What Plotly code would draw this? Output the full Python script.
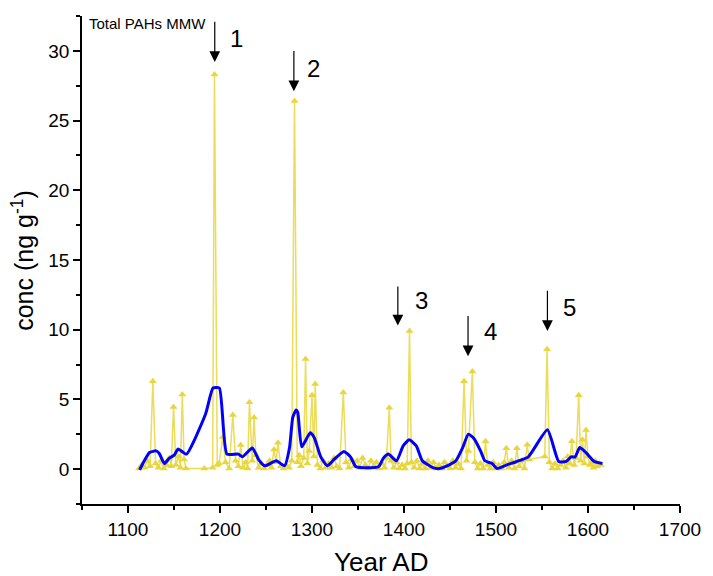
import plotly.graph_objects as go

# Total PAHs (MMW) concentration, raw samples
years = [1112, 1115, 1118, 1121, 1124, 1127, 1130, 1133, 1136, 1139, 1142, 1145, 1147,
         1149.5, 1152, 1155, 1157, 1159, 1161, 1163, 1183, 1192, 1194, 1197, 1199, 1203,
         1206, 1210, 1213.9, 1217, 1220, 1222.5, 1225, 1228, 1230, 1232, 1235, 1237, 1239,
         1242, 1245, 1248, 1251, 1254, 1256, 1258.7, 1261, 1263, 1266, 1269, 1272, 1275,
         1278, 1281, 1284, 1286, 1288, 1291, 1293, 1295, 1297, 1300, 1302, 1303.5, 1306,
         1309, 1312, 1315, 1318, 1321, 1324, 1327, 1330, 1334, 1337, 1340, 1343, 1346, 1349,
         1352, 1355, 1358, 1361, 1364, 1367, 1370, 1373, 1376, 1379, 1381, 1384, 1386, 1389,
         1392, 1395, 1398, 1401, 1403.5, 1406, 1408, 1411, 1414, 1417, 1420, 1423, 1426,
         1429, 1432, 1435, 1438, 1441, 1444, 1447, 1450, 1453, 1456, 1459, 1462, 1465.3,
         1468, 1470, 1474.3, 1477, 1480, 1483, 1486, 1488.6, 1491, 1494, 1497, 1500, 1503,
         1506, 1509, 1511.2, 1514, 1517, 1520, 1522.7, 1525, 1528, 1531, 1534, 1536, 1553,
         1555.5, 1558, 1561, 1564, 1567, 1570, 1573, 1576, 1578, 1580, 1582.4, 1585, 1587,
         1589.9, 1592, 1594, 1596, 1597.8, 1600, 1602, 1604, 1606, 1608, 1610, 1612, 1614]
conc = [0.05, 0.3, 0.1, 0.6, 0.2, 6.3, 0.4, 0.1, 0.6, 0.05, 0.3, 0.8, 0.2,
        4.45, 0.3, 0.9, 0.1, 5.35, 0.7, 0.05, 0.05, 0.1, 28.3, 0.3, 0.4, 2.3,
        0.5, 0.05, 3.88, 0.6, 0.2, 1.74, 0.1, 0.5, 0.05, 4.8, 0.6, 3.7, 1.0,
        0.1, 0.4, 0.05, 0.3, 0.6, 0.1, 1.4, 0.5, 1.9, 0.2, 0.05, 0.3, 0.1,
        0.6, 26.4, 0.5, 1.0, 0.2, 0.8, 7.9, 0.4, 1.3, 5.3, 0.9, 6.1, 0.3,
        0.05, 0.6, 0.1, 0.4, 0.1, 0.8, 0.2, 0.05, 5.5, 0.5, 0.1, 0.7, 0.2, 0.6,
        0.1, 0.8, 0.3, 0.05, 0.6, 0.2, 0.5, 0.05, 0.4, 0.1, 0.8, 4.4, 0.6, 0.1,
        0.5, 0.05, 0.3, 0.05, 0.4, 9.9, 0.5, 0.1, 0.6, 0.05, 0.4, 0.05, 0.6,
        0.1, 0.5, 0.05, 0.3, 0.05, 0.5, 0.2, 0.05, 0.6, 0.1, 0.4, 0.05, 6.3,
        0.6, 1.3, 7.0, 0.5, 0.05, 0.4, 0.05, 2.0, 0.3, 0.05, 0.5, 0.05, 0.3,
        0.05, 0.5, 1.5, 0.1, 0.6, 0.05, 1.5, 0.2, 0.6, 0.05, 1.75, 0.7, 0.9,
        8.6, 0.5, 0.05, 0.4, 0.05, 0.3, 0.6, 0.1, 0.9, 0.4, 2.0, 0.3, 0.8,
        5.3, 0.6, 2.1, 0.4, 2.8, 0.9, 0.3, 0.5, 0.1, 0.6, 0.2, 0.4, 0.3]

# Smoothed curve
smooth_years = [1112.6, 1123.4, 1130.6, 1134, 1139.5, 1144.9, 1150.2, 1154.5, 1163.4,
                1184.3, 1192.4, 1199.3, 1207.5, 1220, 1224.3, 1235.1, 1242.3, 1248.7,
                1261.2, 1270.2, 1275.6, 1279.1, 1282.7, 1284.5, 1288.8, 1298.1, 1302.4,
                1309.5, 1316.7, 1323.2, 1334.7, 1341.8, 1347.9, 1372.3, 1377.6, 1383,
                1391.9, 1399.1, 1405.6, 1413.4, 1419.9, 1431.4, 1438.4, 1449.2, 1456.4,
                1463.6, 1470, 1476, 1483.2, 1487.9, 1495.8, 1501.2, 1511.9, 1522.7,
                1535.1, 1555.9, 1568.1, 1576.3, 1581.7, 1586, 1591, 1597.8, 1606.8, 1615.7]
smooth_conc = [-0.05, 1.19, 1.31, 1.12, 0.4, 0.79, 1.0, 1.44, 1.08,
               3.95, 5.82, 5.82, 1.08, 1.08, 0.88, 1.51, 0.65, 0.24,
               0.6, 0.24, 1.55, 3.71, 4.24, 4.07, 1.6, 2.61, 2.27,
               0.88, 0.24, 0.65, 1.27, 0.88, 0.17, 0.17, 0.79, 1.08,
               0.6, 1.67, 2.1, 1.67, 0.6, 0.11, 0.04, 0.31, 0.6,
               1.51, 2.51, 2.2, 1.31, 0.6, 0.4, 0.04, 0.31, 0.55,
               0.88, 2.82, 0.55, 0.55, 0.88, 0.88, 1.55, 1.19, 0.55, 0.4]

# Marked events: arrow x, arrow tip, arrow tail, label position
event_labels = ["1", "2", "3", "4", "5"]
event_x = [1194.3, 1280.3, 1393.3, 1469.6, 1555.9]
event_tip = [29.2, 27.1, 10.3, 8.1, 9.9]
event_tail = [32.2, 30.1, 13.2, 11.1, 12.9]
label_x = [1218, 1302, 1419, 1494, 1580]
label_y = [30.9, 28.7, 12.1, 9.9, 11.6]

yellow = "rgb(232,214,60)"
FONT = "Liberation Sans, Arial"

fig = go.Figure()
fig.add_trace(go.Scatter(
    x=years, y=conc, mode="lines+markers",
    line=dict(color="rgba(232,214,60,0.85)", width=1.5),
    marker=dict(symbol="triangle-up", size=7, color=yellow),
    showlegend=False,
))
fig.add_trace(go.Scatter(
    x=smooth_years, y=smooth_conc, mode="lines",
    line=dict(color="#0000FF", width=3, shape="spline", smoothing=0.5),
    showlegend=False,
))

annotations = []
for lab, xa, tip, tail, lx, ly in zip(event_labels, event_x, event_tip, event_tail, label_x, label_y):
    annotations.append(dict(
        x=xa, y=tip, ax=xa, ay=tail, xref="x", yref="y", axref="x", ayref="y",
        showarrow=True, arrowhead=2, arrowsize=1.8, arrowwidth=1.2,
        arrowcolor="black", text="", standoff=0,
    ))
    annotations.append(dict(
        x=lx, y=ly, xref="x", yref="y", text=lab, showarrow=False,
        font=dict(size=24, color="black", family=FONT),
    ))

annotations.append(dict(
    x=0.009, y=0.985, xref="paper", yref="paper", text="Total PAHs MMW",
    showarrow=False, xanchor="left", yanchor="middle",
    font=dict(size=15, color="black", family=FONT),
))
annotations.append(dict(
    x=-0.099, y=0.50, xref="paper", yref="paper", text="conc (ng g<sup>-1</sup>)",
    textangle=-90, showarrow=False, xanchor="center", yanchor="middle",
    font=dict(size=25, color="black", family=FONT),
))
annotations.append(dict(
    x=0.5, y=-0.119, xref="paper", yref="paper", text="Year AD",
    showarrow=False, xanchor="center", yanchor="middle",
    font=dict(size=26, color="black", family=FONT),
))

fig.update_layout(
    width=713, height=576,
    margin=dict(l=82, r=26, t=16, b=72),
    plot_bgcolor="white", paper_bgcolor="white",
    font=dict(family=FONT, color="black", size=19),
    annotations=annotations,
    xaxis=dict(
        range=[1050, 1700], tick0=1100, dtick=100, showgrid=False, zeroline=False,
        showline=True, linecolor="black", linewidth=1.5,
        ticks="outside", ticklen=7, tickwidth=1.5, tickcolor="black",
        minor=dict(dtick=50, ticks="outside", ticklen=4, tickwidth=1.5, tickcolor="black", showgrid=False),
        tickfont=dict(size=19),
    ),
    yaxis=dict(
        range=[-2.5, 32.5], tick0=0, dtick=5, showgrid=False, zeroline=False,
        showline=True, linecolor="black", linewidth=1.5,
        ticks="outside", ticklen=7, tickwidth=1.5, tickcolor="black",
        minor=dict(dtick=2.5, ticks="outside", ticklen=4, tickwidth=1.5, tickcolor="black", showgrid=False),
        tickfont=dict(size=19),
    ),
)

fig.write_html("out.html")
